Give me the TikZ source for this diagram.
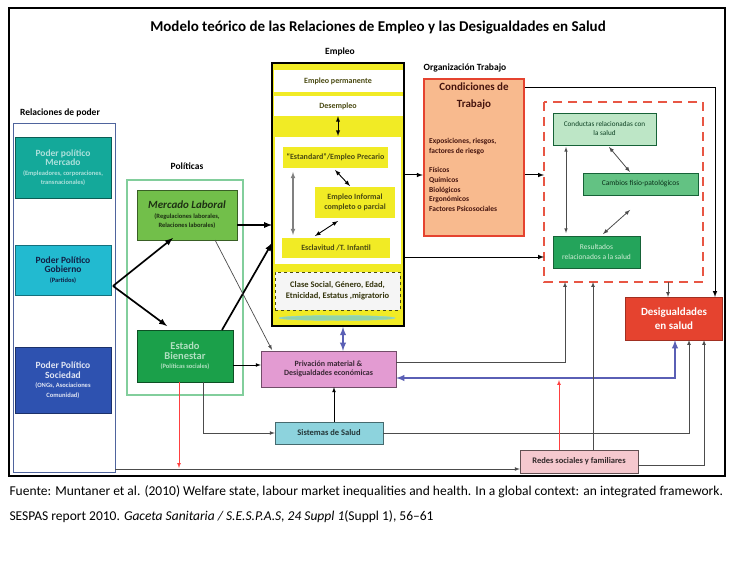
\documentclass[tikz,border=0pt]{standalone}
\usepackage{fontspec}
\setmainfont{Carlito}
\usetikzlibrary{arrows}

\definecolor{pmercado}{HTML}{14A99A}
\definecolor{pgobierno}{HTML}{22BAD0}
\definecolor{psociedad}{HTML}{2E52B0}
\definecolor{mlaboral}{HTML}{72BF4A}
\definecolor{ebienestar}{HTML}{1BA04A}
\definecolor{amarillo}{HTML}{F1EB25}
\definecolor{naranja}{HTML}{F8BA8E}
\definecolor{rojo}{HTML}{E5432F}
\definecolor{verdeclaro}{HTML}{BDE6C6}
\definecolor{verdemedio}{HTML}{63C283}
\definecolor{verdeosc}{HTML}{24A45B}
\definecolor{rosa}{HTML}{E39BD2}
\definecolor{celeste}{HTML}{8DD3DD}
\definecolor{rosaclaro}{HTML}{F5C8CE}
\definecolor{azulflecha}{HTML}{5A5FB5}
\definecolor{oliva}{HTML}{4A4A12}

\newcommand{\chica}{\fontsize{6.5}{8}\selectfont}
\newcommand{\grande}{\fontsize{9.5}{12}\selectfont}

\tikzset{
  caja/.style={draw, align=center, inner sep=1pt,
    font=\bfseries\fontsize{8}{9.5}\selectfont},
  etiqueta/.style={font=\bfseries\fontsize{9.5}{11}\selectfont},
  grueso/.style={-latex, line width=1.7pt},
  medio/.style={-latex, line width=1pt},
  fino/.style={-latex, gray!60!black, line width=0.7pt},
}

\begin{document}
\begin{tikzpicture}[x=1pt, y=-1pt]
    \useasboundingbox (0,0) rectangle (743,585);
    \fill [white] (0,0) rectangle (743,585);

    % marco y titulo
    \draw [line width=1.5pt] (9,8) rectangle (725,476);
    \node [font=\bfseries\fontsize{15}{17}\selectfont] (titulo) at (378,28)
        {Modelo teórico de las Relaciones de Empleo y las Desigualdades en Salud};

    % relaciones de poder
    \node [etiqueta] (lblpoder) at (60,113) {Relaciones de poder};
    \draw [draw=psociedad!60!gray, line width=0.8pt] (13,123) rectangle (115,472);
    \node [caja, fill=pmercado, draw=pmercado!55!black, text=pmercado!35!white,
        minimum width=96, minimum height=61] (pmer) at (63,167.5)
        {\grande Poder político\\\grande Mercado\\\chica(Empleadores, corporaciones,\\\chica transnacionales)};
    \node [caja, fill=pgobierno, draw=pgobierno!60!black, text=psociedad!40!black,
        minimum width=96, minimum height=50] (pgob) at (63,270)
        {\grande Poder Político\\\grande Gobierno\\\chica(Partidos)};
    \node [caja, fill=psociedad, draw=psociedad!60!black, text=white!85!psociedad,
        minimum width=96, minimum height=66] (psoc) at (63,380)
        {\grande Poder Político\\\grande Sociedad\\\chica(ONGs, Asociaciones\\\chica Comunidad)};

    % politicas
    \node [etiqueta] (lblpoliticas) at (187,166) {Políticas};
    \draw [draw=verdemedio!80!white, line width=2pt] (127,180) rectangle (243,395);
    \node [caja, fill=mlaboral, draw=mlaboral!50!black, text=mlaboral!25!black,
        minimum width=100, minimum height=50] (mlab) at (187,215)
        {\fontsize{11}{13}\selectfont\itshape Mercado Laboral\\\chica(Regulaciones laborales,\\\chica Relaciones laborales)};
    \node [caja, fill=ebienestar, draw=ebienestar!50!black, text=verdemedio!50!white,
        minimum width=96, minimum height=52] (ebien) at (185,356)
        {\fontsize{10.5}{13}\selectfont Estado\\\fontsize{10.5}{13}\selectfont Bienestar\\\chica(Políticas sociales)};

    % empleo
    \node [etiqueta] (lblempleo) at (340,52) {Empleo};
    \node [draw, fill=amarillo, line width=1.3pt, minimum width=132, minimum height=263]
        (empleo) at (338,194.5) {};
    \node [caja, draw=none, fill=white, text=oliva, minimum width=129, minimum height=22]
        (eperm) at (338,81) {Empleo permanente};
    \node [caja, draw=none, fill=white, text=oliva, minimum width=129, minimum height=20]
        (desemp) at (338,106) {Desempleo};
    \fill [white] (275,137) rectangle (401,264);
    \node [caja, draw=none, fill=amarillo, text=oliva, minimum width=105, minimum height=21]
        (estandard) at (335.5,157.5) {“Estandard”/Empleo Precario};
    \node [caja, draw=none, fill=amarillo, text=oliva, minimum width=80, minimum height=31]
        (informal) at (355,202.5) {Empleo Informal\\completo o parcial};
    \node [caja, draw=none, fill=amarillo, text=oliva, minimum width=108, minimum height=20]
        (esclav) at (336,248) {Esclavitud /T. Infantil};
    \node [caja, dashed, draw=oliva, line width=1pt, fill=gray!8, text=oliva!70!black,
        font=\bfseries\fontsize{8.5}{11}\selectfont, minimum width=125, minimum height=38]
        (clase) at (337.5,291) {Clase Social, Género, Edad,\\Etnicidad, Estatus ,migratorio};
    \fill [verdemedio!70!white, draw=celeste] (337,318) ellipse [x radius=58, y radius=2.5];

    \draw [latex-latex, line width=0.9pt] (desemp.south) -- (338,136);
    \draw [latex-latex, line width=0.9pt] (335,170) -- (350,186);
    \draw [latex-latex, line width=0.9pt] (338,221) -- (315,236);
    \draw [latex-latex, gray, line width=1.1pt] (293,172) -- (293,235);

    % organizacion del trabajo
    \node [etiqueta] (lblorg) at (465,68) {Organización Trabajo};
    \node [draw=rojo, fill=naranja, line width=2.5pt, minimum width=100, minimum height=157]
        (cond) at (474,157.5) {};
    \node [caja, draw=none, text=rojo!30!black, font=\bfseries\fontsize{11}{17}\selectfont,
        below=4pt] (condtit) at (cond.north) {Condiciones de\\Trabajo};
    \node [caja, draw=none, text=rojo!30!black, align=left, anchor=north west,
        font=\bfseries\fontsize{7.5}{9.7}\selectfont] (condtxt) at (428,137)
        {Exposiciones, riesgos,\\factores de riesgo\\[10pt]Físicos\\Químicos\\Biológicos\\Ergonómicos\\Factores Psicosociales};

    % salud
    \draw [draw=rojo!90!white, dashed, dash pattern=on 9pt off 6pt, line width=2.5pt]
        (544,102) rectangle (703,282);
    \node [caja, fill=verdeclaro, draw=verdeosc!60!black, text=verdeosc!40!black,
        font=\fontsize{7.2}{9}\selectfont, minimum width=103, minimum height=32]
        (conductas) at (604.5,129) {Conductas relacionadas con\\la salud};
    \node [caja, fill=verdemedio, draw=verdeosc!60!black, text=verdeosc!30!black,
        font=\fontsize{7.5}{9}\selectfont, minimum width=115, minimum height=22]
        (cambios) at (640.5,184) {Cambios fisio-patológicos};
    \node [caja, fill=verdeosc, draw=verdeosc!60!black, text=verdeclaro!70!white,
        font=\fontsize{7.5}{9.5}\selectfont, minimum width=87, minimum height=32]
        (result) at (596.5,252) {Resultados\\relacionados a la salud};
    \draw [latex-latex, gray!60!black, line width=0.6pt] (566,147) -- (566,233);
    \draw [latex-latex, gray!60!black, line width=0.8pt] (609,147) -- (630,172);
    \draw [latex-latex, gray!60!black, line width=0.8pt] (630,210) -- (603,234);

    \node [caja, fill=rojo, draw=rojo!70!black, text=white,
        font=\bfseries\fontsize{11}{14}\selectfont, minimum width=97, minimum height=43]
        (desig) at (674,318.5) {Desigualdades\\en salud};

    % cajas de abajo
    \node [caja, fill=rosa, draw=rosa!50!black, text=rosa!25!black,
        minimum width=135, minimum height=36] (priv) at (328.5,369)
        {Privación material \&\\Desigualdades económicas};
    \node [caja, fill=celeste, draw=celeste!50!black, text=celeste!25!black,
        font=\bfseries\fontsize{8.5}{10}\selectfont,
        minimum width=108, minimum height=22] (sist) at (329,433) {Sistemas de Salud};
    \node [caja, fill=rosaclaro, draw=rosaclaro!40!black, text=rosaclaro!20!black,
        font=\bfseries\fontsize{8.5}{10}\selectfont,
        minimum width=118, minimum height=23] (redes) at (579,461.5) {Redes sociales y familiares};

    % flechas gruesas
    \coordinate (gobpunta) at (113,286);
    \draw [grueso] (gobpunta) -- (173,238);
    \draw [grueso] (gobpunta) -- (167,326);
    \draw [grueso] (mlab.east |- 0,225) -- (272,225);
    \draw [grueso] (222,330) -- (272,243);

    \draw [medio] (404,175) -- (cond.west |- 0,175);
    \draw [medio] (cond.east |- 0,175) -- (544,175);
    \draw [medio] (404,257) -- (544,257);
    \draw [medio] (525,88) -- (715,88) -- (715,297);
    \draw [fino] (668,282) -- (668,297);

    % conexiones de abajo
    \draw [latex-latex, azulflecha, line width=1.8pt] (desig.south -| 675,0) -- (675,378) -- (priv.east |- 0,378);
    \draw [latex-latex, azulflecha, line width=1.8pt] (343,327) -- (priv.north -| 343,0);
    \draw [fino] (sist.east) -- (689,433) -- (689,340);
    \draw [fino] (redes.east |- 0,465) -- (704,465) -- (704,340);
    \draw [fino] (priv.east |- 0,362) -- (565,362) -- (565,282);
    \draw [fino] (593,450) -- (593,282);
    \draw [-latex, red!75!white, line width=0.7pt] (559,450) -- (559,380);
    \draw [fino, black] (sist.north -| 334,0) -- (priv.south -| 334,0);
    \draw [fino, black] (ebien.east |- 0,365) -- (priv.west |- 0,365);
    \draw [fino] (215,240) -- (272,350);
    \draw [-latex, red!75!white, line width=0.7pt] (179,382) -- (179,468);
    \draw [fino] (203,382) -- (203,433) -- (sist.west);
    \draw [fino] (115,469) -- (redes.west |- 0,469);

    % fuente
    \node [anchor=west, font=\fontsize{13.5}{16}\selectfont] (fuente1) at (6,492)
        {Fuente: Muntaner et al. (2010) Welfare state, labour market inequalities and health. In a global context: an integrated framework.};
    \node [anchor=west, font=\fontsize{13.5}{16}\selectfont] (fuente2) at (6,517)
        {SESPAS report 2010. \textit{Gaceta Sanitaria / S.E.S.P.A.S, 24 Suppl 1}(Suppl 1), 56–61};
\end{tikzpicture}
\end{document}
